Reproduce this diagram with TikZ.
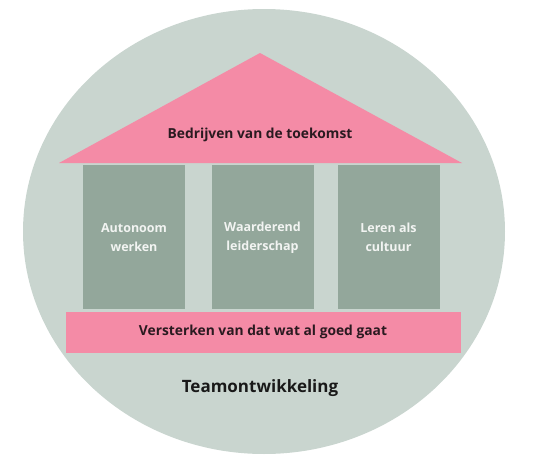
\documentclass[tikz,border=0pt]{standalone}
\usepackage{fontspec}
\setmainfont{Open Sans}
\usetikzlibrary{shapes.geometric}
\definecolor{bgc}{HTML}{C9D5CF}
\definecolor{pillc}{HTML}{93A79B}
\definecolor{pinkc}{HTML}{F48BA6}
\definecolor{darktxt}{HTML}{2A1A20}
\definecolor{lighttxt}{HTML}{F2F4F2}
\tikzset{
  pillar/.style={fill=pillc, draw=none, minimum width=102pt, minimum height=144pt, inner sep=0pt},
  pilltext/.style={text=lighttxt, font=\bfseries\fontsize{12.5}{19}\selectfont, align=center},
  pinktext/.style={text=darktxt, font=\bfseries\fontsize{13.8}{16}\selectfont},
}
\begin{document}
\begin{tikzpicture}[x=1pt,y=-1pt]
\useasboundingbox (0,0) rectangle (539,463);
\fill[bgc] (264,231.5) ellipse [x radius=241, y radius=222.5];
\fill[pinkc] (59,163) -- (260,53) -- (462,163) -- cycle;
\node[pinktext] (roof) at (260,135) {Bedrijven van de toekomst};
\node[pillar] (p1) at (134,237) {};
\node[pillar] (p2) at (262.5,237) {};
\node[pillar] (p3) at (388.5,237) {};
\node[pilltext] (t1) at (134,237.5) {Autonoom\\werken};
\node[pilltext] (t2) at (262.5,237.5) {Waarderend\\leiderschap};
\node[pilltext] (t3) at (388.5,237.5) {Leren als\\cultuur};
\node[fill=pinkc, minimum width=395pt, minimum height=41pt, inner sep=0pt] (base) at (263.5,332.5) {};
\node[pinktext] (bt) at (263,332) {Versterken van dat wat al goed gaat};
\node[text=black!90, font=\bfseries\fontsize{17}{20}\selectfont] (team) at (260,388) {Teamontwikkeling};
\end{tikzpicture}
\end{document}
